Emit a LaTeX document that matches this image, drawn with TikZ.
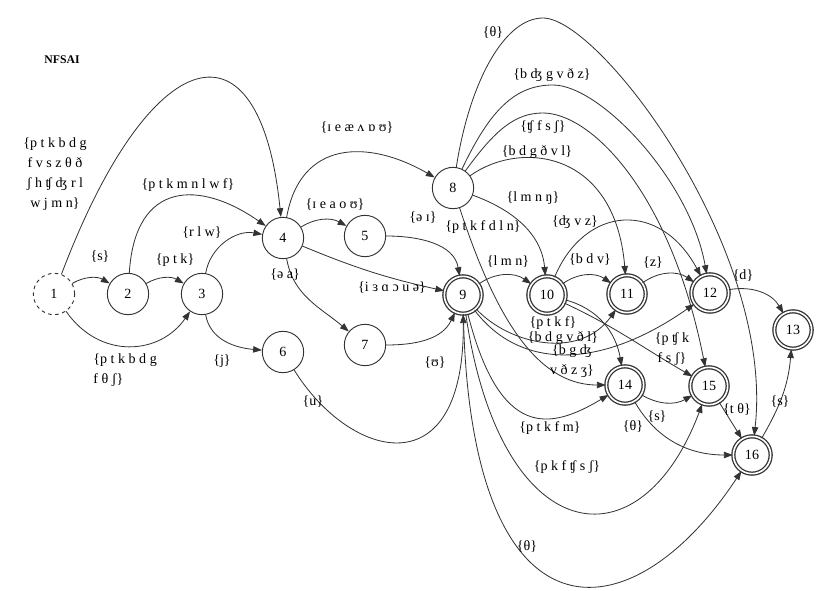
\documentclass[tikz,border=0pt]{standalone}
\usepackage{fontspec}
\setmainfont{Liberation Serif}
\usetikzlibrary{arrows.meta}

\begin{document}
\begin{tikzpicture}[x=0.03cm, y=0.03cm,
  font=\fontsize{12}{17}\selectfont, >={Triangle[length=7.5pt,width=5.5pt]},
  st/.style={circle, draw=black!80, line width=0.8pt, minimum size=1.24cm, inner sep=0pt},
  fin/.style={st, double, double distance=1.4pt, line width=1.1pt, minimum size=1.12cm},
  initst/.style={st, dashed},
  tr/.style={->, draw=black!80, line width=0.7pt},
  lbl/.style={inner sep=1pt, align=center},
  ttl/.style={font=\fontsize{10}{12}\selectfont\bfseries},
]
\useasboundingbox (0,0) rectangle (823,-590);
\node[ttl] (title) at (62,-60) {NFSAI};
% states
\node[initst] (n1) at (54,-294) {1};
\node[st] (n2) at (128,-294) {2};
\node[st] (n3) at (202,-294) {3};
\node[st] (n4) at (283,-238) {4};
\node[st] (n5) at (365,-236) {5};
\node[st] (n6) at (283,-352) {6};
\node[st] (n7) at (365,-345) {7};
\node[st] (n8) at (453,-188) {8};
\node[fin] (n9) at (463,-295) {9};
\node[fin] (n10) at (547,-295) {10};
\node[fin] (n11) at (627,-294) {11};
\node[fin] (n12) at (710,-293) {12};
\node[fin] (n13) at (793,-330) {13};
\node[fin] (n14) at (625,-385) {14};
\node[fin] (n15) at (709,-386) {15};
\node[fin] (n16) at (752,-455) {16};
% onset
\draw[tr] (n1) .. controls (150,-40) and (260,-10) .. (n4);
\draw[tr] (n1) to[bend left=30] (n2);
\draw[tr] (n1) .. controls (100,-360) and (160,-355) .. (n3);
\draw[tr] (n2) to[bend left=30] (n3);
\draw[tr] (n2) .. controls (135,-180) and (200,-180) .. (n4);
\draw[tr] (n3) to[out=80, in=170] (n4);
\draw[tr] (n3) to[out=-80, in=175] (n6);
\node[lbl] (l1to4) at (55,-174) {\{p t k b d g\\f v s z θ ð\\ʃ h ʧ ʤ r l\\w j m n\}};
\node[lbl] (l1to2) at (100,-257) {\{s\}};
\node[lbl, align=left, anchor=west] (l1to3) at (92,-370) {\{p t k b d g\\f θ ʃ\}};
\node[lbl] (l2to3) at (175,-260) {\{p t k\}};
\node[lbl] (l2to4) at (188,-185) {\{p t k m n l w f\}};
\node[lbl] (l3to4) at (202,-233) {\{r l w\}};
\node[lbl] (l3to6) at (222,-361) {\{j\}};
% nucleus
\draw[tr] (n4) to[out=80, in=150, looseness=1.3] (n8);
\draw[tr] (n4) to[bend left=30] (n5);
\draw[tr] (n4) to[bend right=5] (n9);
\draw[tr] (n4) to[out=-80, in=140] (n7);
\draw[tr] (n5) to[out=0, in=100] (n9);
\draw[tr] (n6) .. controls (350,-460) and (465,-490) .. (n9);
\draw[tr] (n7) to[out=0, in=-115] (n9);
\node[lbl] (l4to8) at (357,-128) {\{ɪ e æ ʌ ɒ ʊ\}};
\node[lbl] (l4to5) at (335,-205) {\{ɪ e a o ʊ\}};
\node[lbl] (l4to9) at (392,-288) {\{i ɜ ɑ ɔ u ə\}};
\node[lbl] (l4to7) at (285,-275) {\{ə a\}};
\node[lbl] (l5to9) at (423,-218) {\{ə ɪ\}};
\node[lbl] (l6to9) at (313,-402) {\{u\}};
\node[lbl] (l7to9) at (435,-363) {\{ʊ\}};
% coda
\draw[tr] (n8) .. controls (470,-80) and (505,-18) .. (543,-18) .. controls (600,-18) and (775,-250) .. (n16);
\draw[tr] (n8) .. controls (490,-110) and (515,-85) .. (553,-85) .. controls (600,-85) and (690,-180) .. (n12);
\draw[tr] (n8) .. controls (495,-130) and (515,-113) .. (543,-113) .. controls (590,-113) and (670,-190) .. (n15);
\draw[tr] (n8) .. controls (520,-140) and (615,-150) .. (n11);
\draw[tr] (n8) to[out=-20, in=95] (n10);
\draw[tr] (n8) .. controls (490,-300) and (530,-385) .. (n14);
\draw[tr] (n9) to[bend left=35] (n10);
\draw[tr] (n10) to[bend left=35] (n11);
\draw[tr] (n11) to[bend left=35] (n12);
\draw[tr] (n12) to[out=10, in=120] (n13);
\draw[tr] (n10) .. controls (585,-205) and (660,-200) .. (n12);
\draw[tr] (n9) .. controls (510,-345) and (580,-360) .. (n11);
\draw[tr] (n9) .. controls (520,-370) and (600,-370) .. (n12);
\draw[tr] (n10) to[out=-15, in=100] (n14);
\draw[tr] (n10) to[out=-25, in=150] (n15);
\draw[tr] (n9) .. controls (500,-440) and (550,-430) .. (n14);
\draw[tr] (n9) .. controls (500,-550) and (640,-570) .. (n15);
\draw[tr] (n9) .. controls (470,-650) and (630,-640) .. (n16);
\draw[tr] (n14) to[bend right=30] (n15);
\draw[tr] (n14) to[out=-60, in=180] (n16);
\draw[tr] (n15) -- (n16);
\draw[tr] (n16) to[out=60, in=-95] (n13);
\node[lbl] (l8to16) at (493,-33) {\{θ\}};
\node[lbl] (l8to12) at (552,-75) {\{b ʤ g v ð z\}};
\node[lbl] (l8to15) at (543,-127) {\{ʧ f s ʃ\}};
\node[lbl] (l8to11) at (537,-152) {\{b d g ð v l\}};
\node[lbl] (l8to10) at (533,-198) {\{l m n ŋ\}};
\node[lbl] (l8to14) at (483,-227) {\{p t k f d l n\}};
\node[lbl] (l9to10) at (508,-262) {\{l m n\}};
\node[lbl] (l10to11) at (590,-260) {\{b d v\}};
\node[lbl] (l10to12) at (575,-222) {\{ʤ v z\}};
\node[lbl] (l11to12) at (653,-263) {\{z\}};
\node[lbl] (l12to13) at (743,-276) {\{d\}};
\node[lbl] (l10to14) at (553,-323) {\{p t k f\}};
\node[lbl] (l9to11) at (563,-338) {\{b d g v ð l\}};
\node[lbl] (l9to12) at (572,-361) {\{b g ʤ\\v ð z ʒ\}};
\node[lbl] (l10to15) at (672,-349) {\{p ʧ k\\f s ʃ\}};
\node[lbl] (l9to14) at (550,-428) {\{p t k f m\}};
\node[lbl] (l14to15) at (657,-417) {\{s\}};
\node[lbl] (l14to16) at (633,-427) {\{θ\}};
\node[lbl] (l15to16) at (737,-410) {\{t θ\}};
\node[lbl] (l16to13) at (780,-402) {\{s\}};
\node[lbl] (l9to15) at (567,-467) {\{p k f ʧ s ʃ\}};
\node[lbl] (l9to16) at (527,-547) {\{θ\}};
\end{tikzpicture}
\end{document}
